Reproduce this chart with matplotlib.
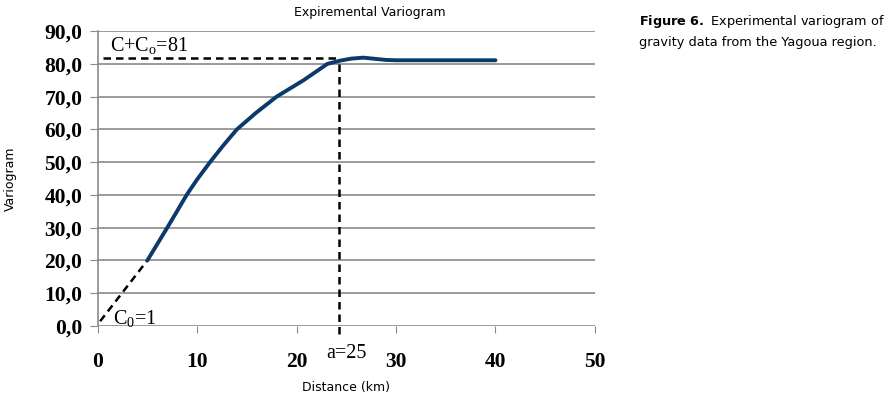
import matplotlib.pyplot as plt

# experimental variogram
dist = [5, 6, 7, 8, 8.95, 10, 11.3, 12.5, 13.3, 14, 15.9, 18, 20.7, 23.1, 24.4, 25.5, 26.7, 28, 29, 30, 32, 35, 40]
vario = [20, 25, 30, 35.1, 40, 44.7, 50, 54.6, 57.5, 60, 65, 70, 75, 80, 81, 81.6, 81.9, 81.5, 81.2, 81.1, 81.1, 81.1, 81.1]

sill = 81.8
rng = 24.3
nugget_line_x = [0.25, 5]
nugget_line_y = [1.4, 20]

xticks = [0, 10, 20, 30, 40, 50]
yticks = [0, 10, 20, 30, 40, 50, 60, 70, 80, 90]

fig = plt.figure(figsize=(8.96, 3.94), dpi=100)
ax = fig.add_axes([0.109, 0.173, 0.555, 0.748])

for v in yticks:
    ax.axhline(v, color="#8a8a8a", lw=1.2, zorder=1)

ax.plot(dist, vario, color="#0b3a6a", lw=2.8, solid_capstyle="round", solid_joinstyle="round", zorder=3)
ax.plot(nugget_line_x, nugget_line_y, "k--", lw=1.8, dashes=(3, 2), zorder=2)
ax.plot([0.5, rng], [sill, sill], "k--", lw=1.8, dashes=(3, 2), zorder=2)
ax.plot([rng, rng], [-2.5, sill - 0.8], "k--", lw=1.8, dashes=(3, 2), zorder=2, clip_on=False)

ax.set_xlim(0, 50)
ax.set_ylim(0, 90)
ax.set_xticks(xticks)
ax.set_yticks(yticks)
ax.set_yticklabels([f"{v},0" for v in yticks])
for s in ["top", "right", "bottom"]:
    ax.spines[s].set_visible(False)
ax.spines["left"].set_color("#8a8a8a")
ax.spines["left"].set_linewidth(1.2)
ax.tick_params(axis="y", length=6, color="#8a8a8a", pad=5)
ax.tick_params(axis="x", length=5, color="#8a8a8a", pad=14)
for lab in ax.get_xticklabels() + ax.get_yticklabels():
    lab.set_fontfamily("Liberation Serif")
    lab.set_fontweight("bold")
    lab.set_fontsize(15.5)

ax.text(1.2, 85.3, "C+C$_\\mathregular{o}$=81", fontfamily="Liberation Serif", fontsize=14.5, va="center")
ax.text(1.5, 2.0, "C$_\\mathregular{0}$=1", fontfamily="Liberation Serif", fontsize=14.5, va="center")
ax.text(25, -8.5, "a=25", fontfamily="Liberation Serif", fontsize=14.5, va="center", ha="center")

ax.set_xlabel("Distance (km)", fontsize=9, labelpad=6)
ax.set_ylabel("Variogram", fontsize=9, labelpad=20)

fig.text(0.413, 0.968, "Expiremental Variogram", fontsize=9, ha="center", va="center")
fig.text(0.713, 0.945, "$\\bf{Figure\\ 6.}$ Experimental variogram of", fontsize=9.3, va="center",
         fontfamily="DejaVu Sans")
fig.text(0.713, 0.893, "gravity data from the Yagoua region.", fontsize=9.3, va="center",
         fontfamily="DejaVu Sans")

fig.savefig("out.png", dpi=100)
